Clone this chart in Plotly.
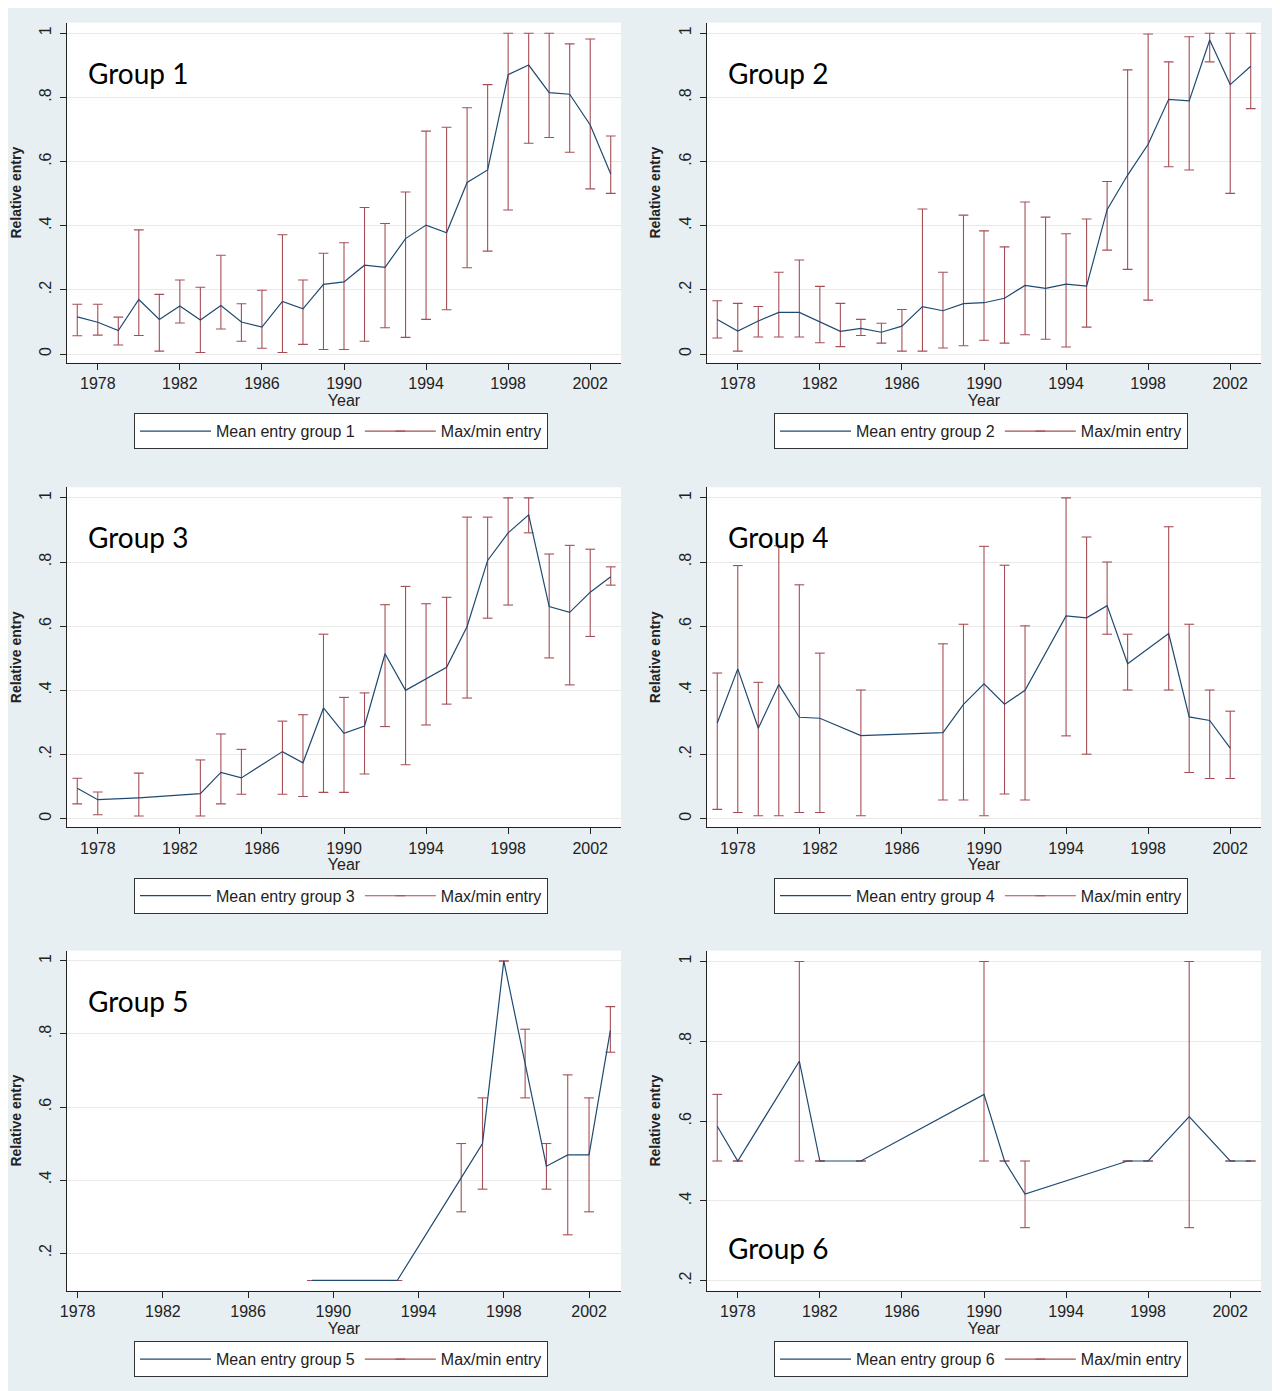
import plotly.graph_objects as go

# ---------------- data ----------------
years_g1 = [1977, 1978, 1979, 1980, 1981, 1982, 1983, 1984, 1985, 1986, 1987, 1988, 1989, 1990,
            1991, 1992, 1993, 1994, 1995, 1996, 1997, 1998, 1999, 2000, 2001, 2002, 2003]
mean_g1 = [0.116, 0.099, 0.073, 0.170, 0.108, 0.150, 0.106, 0.151, 0.100, 0.084, 0.164, 0.141, 0.217, 0.225,
           0.277, 0.270, 0.360, 0.402, 0.378, 0.535, 0.574, 0.871, 0.901, 0.815, 0.810, 0.714, 0.561]
max_g1 = [0.155, 0.155, 0.115, 0.387, 0.186, 0.231, 0.208, 0.308, 0.157, 0.199, 0.372, 0.231, 0.314, 0.347,
          0.457, 0.407, 0.505, 0.695, 0.707, 0.768, 0.840, 1.000, 1.000, 1.000, 0.967, 0.982, 0.680]
min_g1 = [0.057, 0.059, 0.028, 0.058, 0.009, 0.097, 0.005, 0.078, 0.040, 0.018, 0.005, 0.030, 0.014, 0.014,
          0.040, 0.082, 0.052, 0.108, 0.138, 0.269, 0.321, 0.449, 0.657, 0.675, 0.629, 0.515, 0.501]

years_g2 = [1977, 1978, 1979, 1980, 1981, 1982, 1983, 1984, 1985, 1986, 1987, 1988, 1989, 1990,
            1991, 1992, 1993, 1994, 1995, 1996, 1997, 1998, 1999, 2000, 2001, 2002, 2003]
mean_g2 = [0.108, 0.072, 0.103, 0.130, 0.130, 0.101, 0.071, 0.080, 0.068, 0.087, 0.148, 0.135, 0.157, 0.160,
           0.174, 0.214, 0.205, 0.218, 0.212, 0.450, 0.558, 0.654, 0.794, 0.789, 0.979, 0.840, 0.897]
max_g2 = [0.166, 0.158, 0.148, 0.255, 0.293, 0.211, 0.158, 0.108, 0.096, 0.139, 0.452, 0.255, 0.433, 0.384,
          0.334, 0.474, 0.427, 0.375, 0.421, 0.538, 0.886, 0.998, 0.911, 0.989, 1.000, 1.000, 1.000]
min_g2 = [0.050, 0.009, 0.053, 0.053, 0.053, 0.035, 0.023, 0.058, 0.034, 0.009, 0.009, 0.019, 0.026, 0.043,
          0.034, 0.060, 0.046, 0.022, 0.084, 0.324, 0.264, 0.168, 0.584, 0.574, 0.911, 0.501, 0.765]

years_g3 = [1977, 1978, 1980, 1983, 1984, 1985, 1987, 1988, 1989, 1990, 1991, 1992, 1993, 1994,
            1995, 1996, 1997, 1998, 1999, 2000, 2001, 2002, 2003]
mean_g3 = [0.095, 0.059, 0.065, 0.078, 0.144, 0.127, 0.209, 0.174, 0.345, 0.266, 0.289, 0.514, 0.400, 0.436,
           0.472, 0.599, 0.805, 0.891, 0.947, 0.661, 0.643, 0.706, 0.754]
max_g3 = [0.126, 0.083, 0.142, 0.183, 0.264, 0.216, 0.304, 0.324, 0.575, 0.378, 0.392, 0.667, 0.724, 0.670,
          0.690, 0.940, 0.940, 1.000, 1.000, 0.825, 0.852, 0.840, 0.785]
min_g3 = [0.046, 0.012, 0.008, 0.008, 0.046, 0.076, 0.076, 0.069, 0.082, 0.082, 0.139, 0.287, 0.168, 0.292,
          0.357, 0.376, 0.625, 0.666, 0.891, 0.501, 0.417, 0.568, 0.728]

years_g4 = [1977, 1978, 1979, 1980, 1981, 1982, 1984, 1988, 1989, 1990, 1991, 1992, 1994, 1995,
            1996, 1997, 1999, 2000, 2001, 2002]
mean_g4 = [0.298, 0.467, 0.282, 0.418, 0.316, 0.313, 0.259, 0.268, 0.356, 0.420, 0.357, 0.400, 0.632, 0.626,
           0.664, 0.483, 0.577, 0.317, 0.306, 0.220]
max_g4 = [0.454, 0.789, 0.425, 0.851, 0.729, 0.516, 0.401, 0.545, 0.606, 0.849, 0.790, 0.601, 1.000, 0.878,
          0.800, 0.575, 0.910, 0.606, 0.401, 0.335]
min_g4 = [0.029, 0.019, 0.009, 0.009, 0.019, 0.019, 0.009, 0.058, 0.058, 0.009, 0.077, 0.058, 0.258, 0.201,
          0.575, 0.401, 0.401, 0.144, 0.125, 0.125]

years_g5 = [1989, 1993, 1996, 1997, 1998, 1999, 2000, 2001, 2002, 2003]
mean_g5 = [0.125, 0.125, 0.406, 0.500, 1.000, 0.720, 0.438, 0.469, 0.469, 0.810]
max_g5 = [0.125, 0.125, 0.500, 0.625, 1.000, 0.813, 0.500, 0.688, 0.625, 0.875]
min_g5 = [0.125, 0.125, 0.313, 0.375, 1.000, 0.625, 0.375, 0.250, 0.313, 0.750]

years_g6 = [1977, 1978, 1981, 1982, 1984, 1990, 1991, 1992, 1997, 1998, 2000, 2002, 2003]
mean_g6 = [0.587, 0.500, 0.750, 0.500, 0.500, 0.667, 0.500, 0.417, 0.500, 0.500, 0.611, 0.500, 0.500]
max_g6 = [0.667, 0.500, 1.000, 0.500, 0.500, 1.000, 0.500, 0.500, 0.500, 0.500, 1.000, 0.500, 0.500]
min_g6 = [0.500, 0.500, 0.500, 0.500, 0.500, 0.500, 0.500, 0.333, 0.500, 0.500, 0.333, 0.500, 0.500]

group_labels = ["Group 1", "Group 2", "Group 3", "Group 4", "Group 5", "Group 6"]
mean_names = ["Mean entry group 1", "Mean entry group 2", "Mean entry group 3",
              "Mean entry group 4", "Mean entry group 5", "Mean entry group 6"]
err_name = "Max/min entry"
x_title = "Year"
y_title = "Relative entry"
x_tickvals = [1978, 1982, 1986, 1990, 1994, 1998, 2002]
x_ticktext = ["1978", "1982", "1986", "1990", "1994", "1998", "2002"]
y_tickvals_full = [0, 0.2, 0.4, 0.6, 0.8, 1.0]
y_ticktext_full = ["0", ".2", ".4", ".6", ".8", "1"]
y_tickvals_upper = [0.2, 0.4, 0.6, 0.8, 1.0]
y_ticktext_upper = [".2", ".4", ".6", ".8", "1"]

groups = [
    (years_g1, mean_g1, max_g1, min_g1),
    (years_g2, mean_g2, max_g2, min_g2),
    (years_g3, mean_g3, max_g3, min_g3),
    (years_g4, mean_g4, max_g4, min_g4),
    (years_g5, mean_g5, max_g5, min_g5),
    (years_g6, mean_g6, max_g6, min_g6),
]

# ---------------- styling / layout ----------------
W, H = 1280, 1391
OFF_X, OFF_Y = 8, 8          # page body margin of the browser
BG = "#e8eff2"
NAVY = "#1f4a70"
MAROON = "#a64e56"
FONT = "Liberation Sans, Arial, sans-serif"
LABEL_FONT = "Lato, Open Sans, sans-serif"

col_left = [67, 707]
row_top = [22.7, 487.3, 950.7]
plot_w, plot_h = 554, 340

x_ranges = [[1976.5, 2003.5]] * 4 + [[1977.5, 2003.5], [1976.5, 2003.5]]
y_ranges = [[-0.027, 1.033]] * 4 + [[0.097, 1.028], [0.175, 1.027]]
label_dy = [50, 50, 50, 50, 50, 297]


def px_x(px):
    return (px - OFF_X) / W


def px_y(py):
    return 1 - (py - OFF_Y) / H


fig = go.Figure()
layout_upd = {}
annotations = []

for i, (yrs, mn, mx, mi) in enumerate(groups):
    r, c = divmod(i, 2)
    n = i + 1
    xa = "x" if n == 1 else f"x{n}"
    ya = "y" if n == 1 else f"y{n}"
    leg = "legend" if n == 1 else f"legend{n}"

    # error bars as vertical segments with cap markers
    ex, ey = [], []
    for yr, hi, lo in zip(yrs, mx, mi):
        ex += [yr, yr, None]
        ey += [lo, hi, None]
    fig.add_trace(go.Scatter(
        x=ex, y=ey, mode="lines+markers", name=err_name,
        line=dict(color=MAROON, width=1.1),
        marker=dict(symbol="line-ew", size=7, line=dict(color=MAROON, width=1.1)),
        xaxis=xa, yaxis=ya, legend=leg, legendrank=2, hoverinfo="skip",
    ))
    fig.add_trace(go.Scatter(
        x=yrs, y=mn, mode="lines", name=mean_names[i],
        line=dict(color=NAVY, width=1.2),
        xaxis=xa, yaxis=ya, legend=leg, legendrank=1,
    ))

    left = col_left[c]
    top = row_top[r]
    xkey = "xaxis" if n == 1 else f"xaxis{n}"
    ykey = "yaxis" if n == 1 else f"yaxis{n}"
    layout_upd[xkey] = dict(
        domain=[px_x(left), px_x(left + plot_w)], anchor=ya,
        range=x_ranges[i], tickmode="array", tickvals=x_tickvals, ticktext=x_ticktext,
        showline=True, linecolor="#222", linewidth=1, mirror=False,
        ticks="outside", ticklen=6, tickcolor="#222", tickwidth=1,
        showgrid=False, zeroline=False,
        tickfont=dict(family=FONT, size=16, color="#222"),
        title=dict(text=x_title, font=dict(family=FONT, size=16, color="#222"), standoff=0),
        automargin=False,
    )
    yt_vals = y_tickvals_full if i < 4 else y_tickvals_upper
    yt_text = y_ticktext_full if i < 4 else y_ticktext_upper
    layout_upd[ykey] = dict(
        domain=[px_y(top + plot_h), px_y(top)], anchor=xa,
        range=y_ranges[i], tickmode="array", tickvals=yt_vals, ticktext=yt_text,
        showline=True, linecolor="#222", linewidth=1,
        ticks="outside", ticklen=6, tickcolor="#222", tickwidth=1,
        tickangle=-90, ticklabelstandoff=3,
        showgrid=True, gridcolor="#e9e9e9", gridwidth=1, zeroline=False,
        tickfont=dict(family=FONT, size=16, color="#222"),
        title=dict(text=y_title, font=dict(family=FONT, size=14, color="#222", weight="bold"), standoff=12),
        automargin=False,
    )
    layout_upd[leg] = dict(
        x=px_x(left + 67), y=px_y(top + 408.5), xanchor="left", yanchor="middle",
        orientation="h", bgcolor="white", bordercolor="#333", borderwidth=1,
        font=dict(family=FONT, size=16, color="#222"),
        itemwidth=71,
        traceorder="normal",
    )
    annotations.append(dict(
        text=group_labels[i], xref="paper", yref="paper",
        x=px_x(left + 19), y=px_y(top + label_dy[i]), xanchor="left", yanchor="middle",
        showarrow=False, font=dict(family=LABEL_FONT, size=28, color="black"),
    ))

fig.update_layout(
    width=W, height=H, margin=dict(l=0, r=0, t=0, b=0),
    paper_bgcolor=BG, plot_bgcolor="white",
    annotations=annotations,
    **layout_upd,
)

fig.write_html("out.html")
